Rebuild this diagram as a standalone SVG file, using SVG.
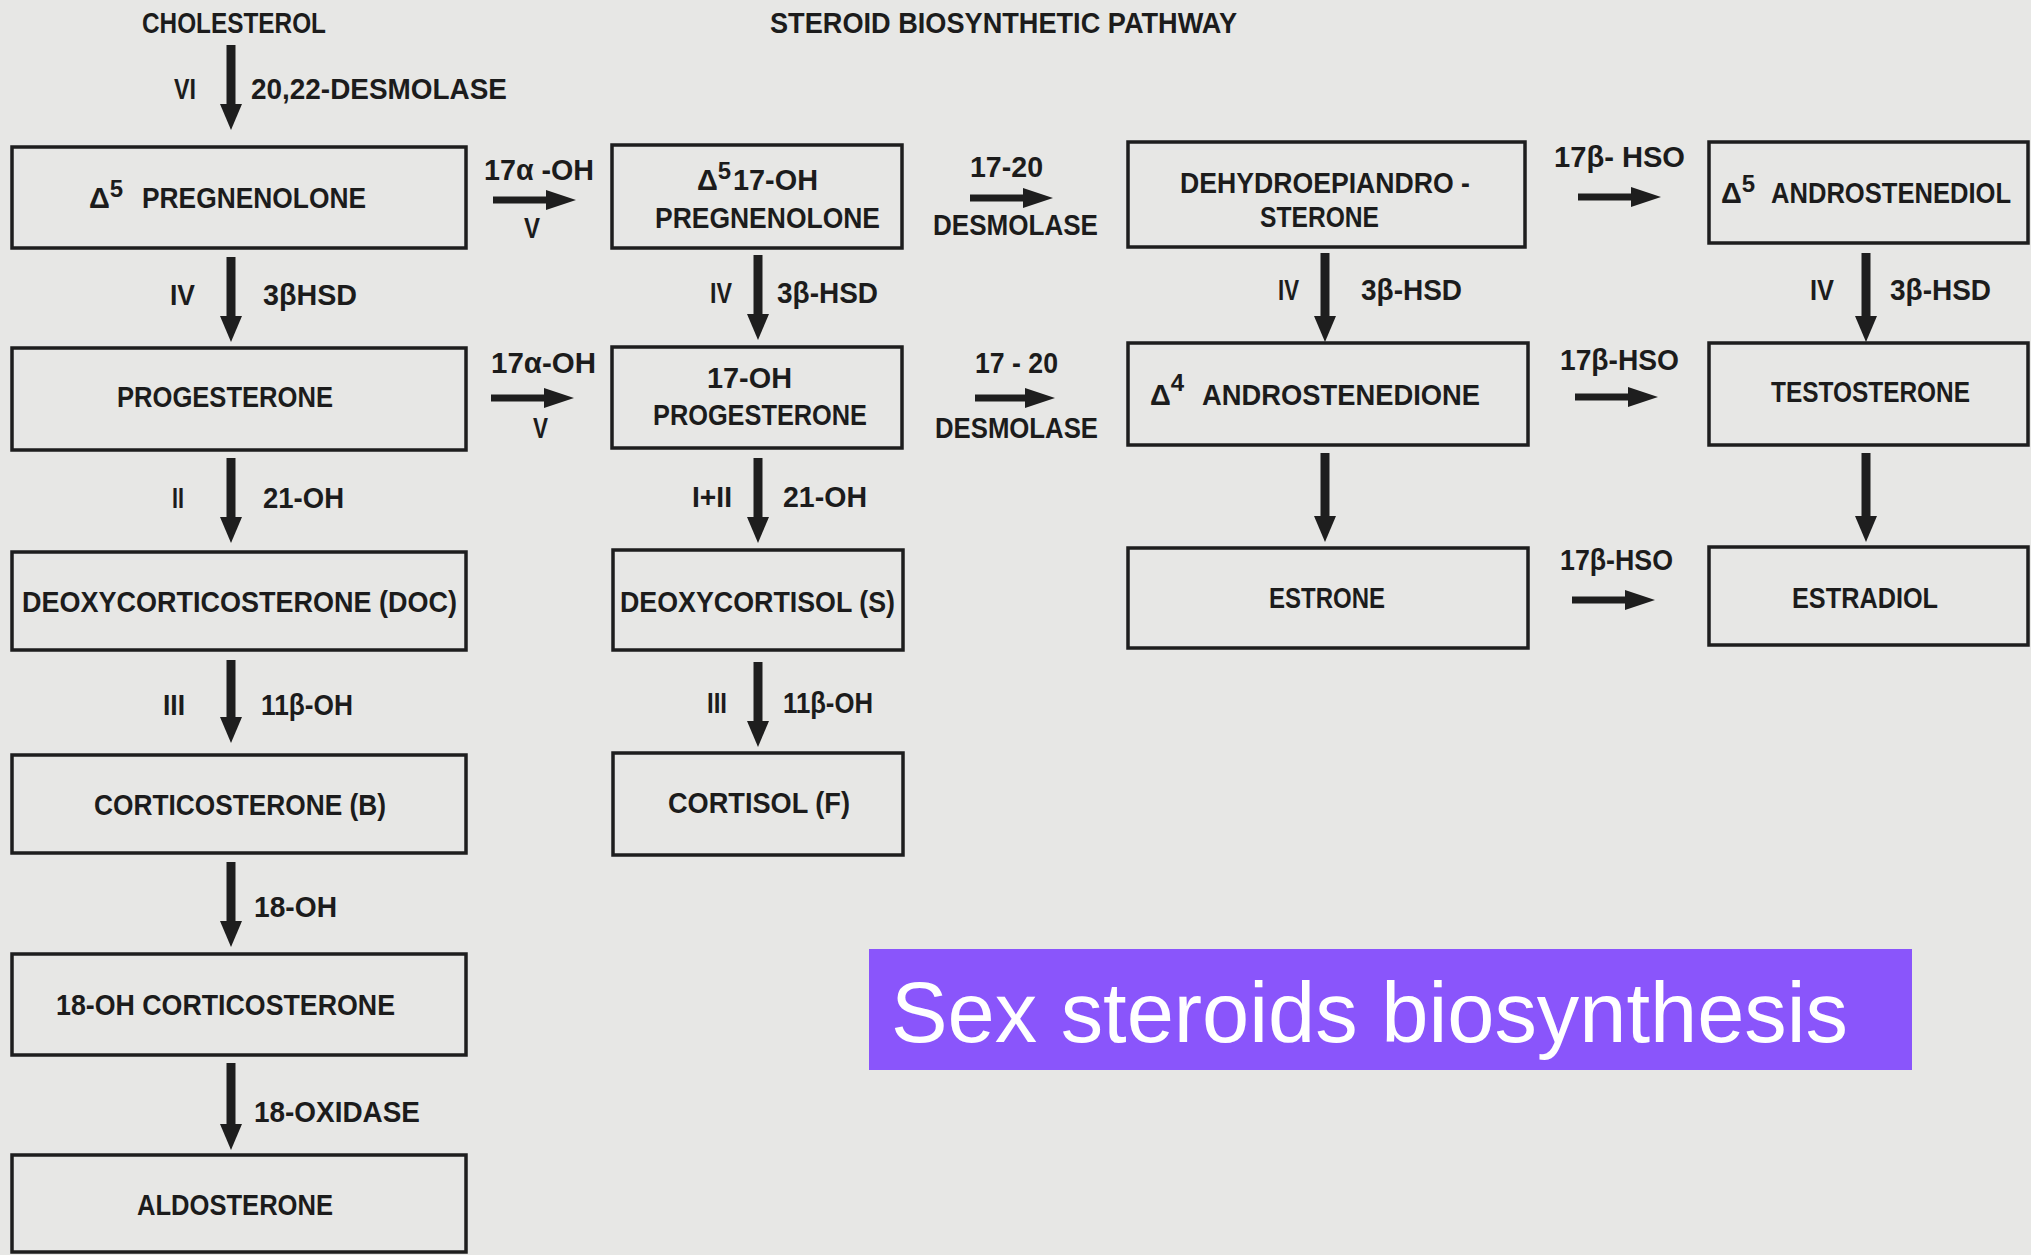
<svg xmlns="http://www.w3.org/2000/svg" width="2031" height="1255" viewBox="0 0 2031 1255">
<defs>
<style>
.bg{fill:#e7e7e5}
.box{fill:none;stroke:#1e1e1e;stroke-width:3.5}
.t{font-family:"Liberation Sans",Arial,sans-serif;font-weight:bold;font-size:29px;fill:#1c1c1c}
.sup{font-size:24px}
.vs{stroke:#1e1e1e;stroke-width:9;fill:none}
.hs{stroke:#1e1e1e;stroke-width:7;fill:none}
.banner{fill:#8a55fb}
.bt{font-family:"Liberation Sans",Arial,sans-serif;font-size:86px;fill:#ffffff}
</style>
<marker id="vh" markerUnits="userSpaceOnUse" markerWidth="30" markerHeight="30" refX="0" refY="11" orient="auto" viewBox="0 0 30 22">
<path d="M0,0 L26,11 L0,22 z" fill="#1e1e1e"/>
</marker>
<marker id="hh" markerUnits="userSpaceOnUse" markerWidth="32" markerHeight="32" refX="0" refY="10" orient="auto" viewBox="0 0 32 20">
<path d="M0,0 L30,10 L0,20 z" fill="#1e1e1e"/>
</marker>
</defs>
<rect class="bg" x="0" y="0" width="2031" height="1255"/>

<g id="titles">
<text class="t" x="142" y="33" textLength="184" lengthAdjust="spacingAndGlyphs">CHOLESTEROL</text>
<text class="t" x="770" y="33" textLength="467" lengthAdjust="spacingAndGlyphs">STEROID BIOSYNTHETIC PATHWAY</text>
</g>

<g id="connectors">
<line class="vs" x1="231" y1="45" x2="231" y2="104" marker-end="url(#vh)"/>
<line class="vs" x1="231" y1="257" x2="231" y2="316" marker-end="url(#vh)"/>
<line class="vs" x1="231" y1="458" x2="231" y2="517" marker-end="url(#vh)"/>
<line class="vs" x1="231" y1="660" x2="231" y2="717" marker-end="url(#vh)"/>
<line class="vs" x1="231" y1="862" x2="231" y2="921" marker-end="url(#vh)"/>
<line class="vs" x1="231" y1="1063" x2="231" y2="1124" marker-end="url(#vh)"/>
<line class="vs" x1="758" y1="255" x2="758" y2="314" marker-end="url(#vh)"/>
<line class="vs" x1="758" y1="458" x2="758" y2="517" marker-end="url(#vh)"/>
<line class="vs" x1="758" y1="662" x2="758" y2="721" marker-end="url(#vh)"/>
<line class="vs" x1="1325" y1="253" x2="1325" y2="316" marker-end="url(#vh)"/>
<line class="vs" x1="1325" y1="453" x2="1325" y2="516" marker-end="url(#vh)"/>
<line class="vs" x1="1866" y1="253" x2="1866" y2="316" marker-end="url(#vh)"/>
<line class="vs" x1="1866" y1="453" x2="1866" y2="516" marker-end="url(#vh)"/>
<line class="hs" x1="493" y1="200" x2="546" y2="200" marker-end="url(#hh)"/>
<line class="hs" x1="491" y1="398" x2="544" y2="398" marker-end="url(#hh)"/>
<line class="hs" x1="970" y1="198" x2="1023" y2="198" marker-end="url(#hh)"/>
<line class="hs" x1="975" y1="398" x2="1025" y2="398" marker-end="url(#hh)"/>
<line class="hs" x1="1578" y1="197" x2="1631" y2="197" marker-end="url(#hh)"/>
<line class="hs" x1="1575" y1="397" x2="1628" y2="397" marker-end="url(#hh)"/>
<line class="hs" x1="1572" y1="600" x2="1625" y2="600" marker-end="url(#hh)"/>
</g>

<g id="connector-labels">
<text class="t" x="174" y="99" textLength="22" lengthAdjust="spacingAndGlyphs">VI</text>
<text class="t" x="251" y="99" textLength="256" lengthAdjust="spacingAndGlyphs">20,22-DESMOLASE</text>
<text class="t" x="484" y="180" textLength="110" lengthAdjust="spacingAndGlyphs">17α -OH</text>
<text class="t" x="524" y="238" textLength="16" lengthAdjust="spacingAndGlyphs">V</text>
<text class="t" x="970" y="177" textLength="73" lengthAdjust="spacingAndGlyphs">17-20</text>
<text class="t" x="933" y="235" textLength="165" lengthAdjust="spacingAndGlyphs">DESMOLASE</text>
<text class="t" x="1554" y="167" textLength="131" lengthAdjust="spacingAndGlyphs">17β- HSO</text>
<text class="t" x="170" y="305" textLength="25" lengthAdjust="spacingAndGlyphs">IV</text>
<text class="t" x="263" y="305" textLength="94" lengthAdjust="spacingAndGlyphs">3βHSD</text>
<text class="t" x="710" y="303" textLength="22" lengthAdjust="spacingAndGlyphs">IV</text>
<text class="t" x="777" y="303" textLength="101" lengthAdjust="spacingAndGlyphs">3β-HSD</text>
<text class="t" x="1278" y="300" textLength="21" lengthAdjust="spacingAndGlyphs">IV</text>
<text class="t" x="1361" y="300" textLength="101" lengthAdjust="spacingAndGlyphs">3β-HSD</text>
<text class="t" x="1810" y="300" textLength="24" lengthAdjust="spacingAndGlyphs">IV</text>
<text class="t" x="1890" y="300" textLength="101" lengthAdjust="spacingAndGlyphs">3β-HSD</text>
<text class="t" x="491" y="373" textLength="105" lengthAdjust="spacingAndGlyphs">17α-OH</text>
<text class="t" x="533" y="438" textLength="15" lengthAdjust="spacingAndGlyphs">V</text>
<text class="t" x="975" y="373" textLength="83" lengthAdjust="spacingAndGlyphs">17 - 20</text>
<text class="t" x="935" y="438" textLength="163" lengthAdjust="spacingAndGlyphs">DESMOLASE</text>
<text class="t" x="1560" y="370" textLength="119" lengthAdjust="spacingAndGlyphs">17β-HSO</text>
<text class="t" x="172" y="508" textLength="12" lengthAdjust="spacingAndGlyphs">II</text>
<text class="t" x="263" y="508" textLength="81" lengthAdjust="spacingAndGlyphs">21-OH</text>
<text class="t" x="692" y="507" textLength="40" lengthAdjust="spacingAndGlyphs">I+II</text>
<text class="t" x="783" y="507" textLength="84" lengthAdjust="spacingAndGlyphs">21-OH</text>
<text class="t" x="1560" y="570" textLength="113" lengthAdjust="spacingAndGlyphs">17β-HSO</text>
<text class="t" x="163" y="715" textLength="22" lengthAdjust="spacingAndGlyphs">III</text>
<text class="t" x="261" y="715" textLength="92" lengthAdjust="spacingAndGlyphs">11β-OH</text>
<text class="t" x="707" y="713" textLength="20" lengthAdjust="spacingAndGlyphs">III</text>
<text class="t" x="783" y="713" textLength="90" lengthAdjust="spacingAndGlyphs">11β-OH</text>
<text class="t" x="254" y="917" textLength="83" lengthAdjust="spacingAndGlyphs">18-OH</text>
<text class="t" x="254" y="1122" textLength="166" lengthAdjust="spacingAndGlyphs">18-OXIDASE</text>
</g>

<g id="n-pregnenolone">
<rect class="box" x="12" y="147" width="454" height="101"/>
<text class="t" x="89" y="208">Δ<tspan class="sup" dy="-11">5</tspan><tspan dy="11" x="142" textLength="224" lengthAdjust="spacingAndGlyphs">PREGNENOLONE</tspan></text>
</g>
<g id="n-17oh-pregnenolone">
<rect class="box" x="612" y="145" width="290" height="103"/>
<text class="t" x="697" y="190">Δ<tspan class="sup" dy="-11">5</tspan><tspan dy="11" x="733" textLength="85" lengthAdjust="spacingAndGlyphs">17-OH</tspan></text>
<text class="t" x="655" y="228" textLength="225" lengthAdjust="spacingAndGlyphs">PREGNENOLONE</text>
</g>
<g id="n-dhea">
<rect class="box" x="1128" y="142" width="397" height="105"/>
<text class="t" x="1180" y="193" textLength="290" lengthAdjust="spacingAndGlyphs">DEHYDROEPIANDRO -</text>
<text class="t" x="1260" y="227" textLength="119" lengthAdjust="spacingAndGlyphs">STERONE</text>
</g>
<g id="n-androstenediol">
<rect class="box" x="1709" y="142" width="319" height="101"/>
<text class="t" x="1721" y="203">Δ<tspan class="sup" dy="-11">5</tspan><tspan dy="11" x="1771" textLength="240" lengthAdjust="spacingAndGlyphs">ANDROSTENEDIOL</tspan></text>
</g>
<g id="n-progesterone">
<rect class="box" x="12" y="348" width="454" height="102"/>
<text class="t" x="117" y="407" textLength="216" lengthAdjust="spacingAndGlyphs">PROGESTERONE</text>
</g>
<g id="n-17oh-progesterone">
<rect class="box" x="612" y="347" width="290" height="101"/>
<text class="t" x="707" y="388" textLength="85" lengthAdjust="spacingAndGlyphs">17-OH</text>
<text class="t" x="653" y="425" textLength="214" lengthAdjust="spacingAndGlyphs">PROGESTERONE</text>
</g>
<g id="n-androstenedione">
<rect class="box" x="1128" y="343" width="400" height="102"/>
<text class="t" x="1150" y="405">Δ<tspan class="sup" dy="-14">4</tspan><tspan dy="14" x="1202" textLength="278" lengthAdjust="spacingAndGlyphs">ANDROSTENEDIONE</tspan></text>
</g>
<g id="n-testosterone">
<rect class="box" x="1709" y="343" width="319" height="102"/>
<text class="t" x="1771" y="402" textLength="199" lengthAdjust="spacingAndGlyphs">TESTOSTERONE</text>
</g>
<g id="n-doc">
<rect class="box" x="12" y="552" width="454" height="98"/>
<text class="t" x="22" y="612" textLength="435" lengthAdjust="spacingAndGlyphs">DEOXYCORTICOSTERONE (DOC)</text>
</g>
<g id="n-deoxycortisol">
<rect class="box" x="613" y="550" width="290" height="100"/>
<text class="t" x="620" y="612" textLength="275" lengthAdjust="spacingAndGlyphs">DEOXYCORTISOL (S)</text>
</g>
<g id="n-estrone">
<rect class="box" x="1128" y="548" width="400" height="100"/>
<text class="t" x="1269" y="608" textLength="116" lengthAdjust="spacingAndGlyphs">ESTRONE</text>
</g>
<g id="n-estradiol">
<rect class="box" x="1709" y="547" width="319" height="98"/>
<text class="t" x="1792" y="608" textLength="146" lengthAdjust="spacingAndGlyphs">ESTRADIOL</text>
</g>
<g id="n-corticosterone">
<rect class="box" x="12" y="755" width="454" height="98"/>
<text class="t" x="94" y="815" textLength="292" lengthAdjust="spacingAndGlyphs">CORTICOSTERONE (B)</text>
</g>
<g id="n-cortisol">
<rect class="box" x="613" y="753" width="290" height="102"/>
<text class="t" x="668" y="813" textLength="182" lengthAdjust="spacingAndGlyphs">CORTISOL (F)</text>
</g>
<g id="n-18oh-corticosterone">
<rect class="box" x="12" y="954" width="454" height="101"/>
<text class="t" x="56" y="1015" textLength="339" lengthAdjust="spacingAndGlyphs">18-OH CORTICOSTERONE</text>
</g>
<g id="n-aldosterone">
<rect class="box" x="12" y="1155" width="454" height="97"/>
<text class="t" x="137" y="1215" textLength="196" lengthAdjust="spacingAndGlyphs">ALDOSTERONE</text>
</g>

<g id="banner">
<rect class="banner" x="869" y="949" width="1043" height="121"/>
<text class="bt" x="891" y="1042" textLength="957" lengthAdjust="spacingAndGlyphs">Sex steroids biosynthesis</text>
</g>
</svg>
